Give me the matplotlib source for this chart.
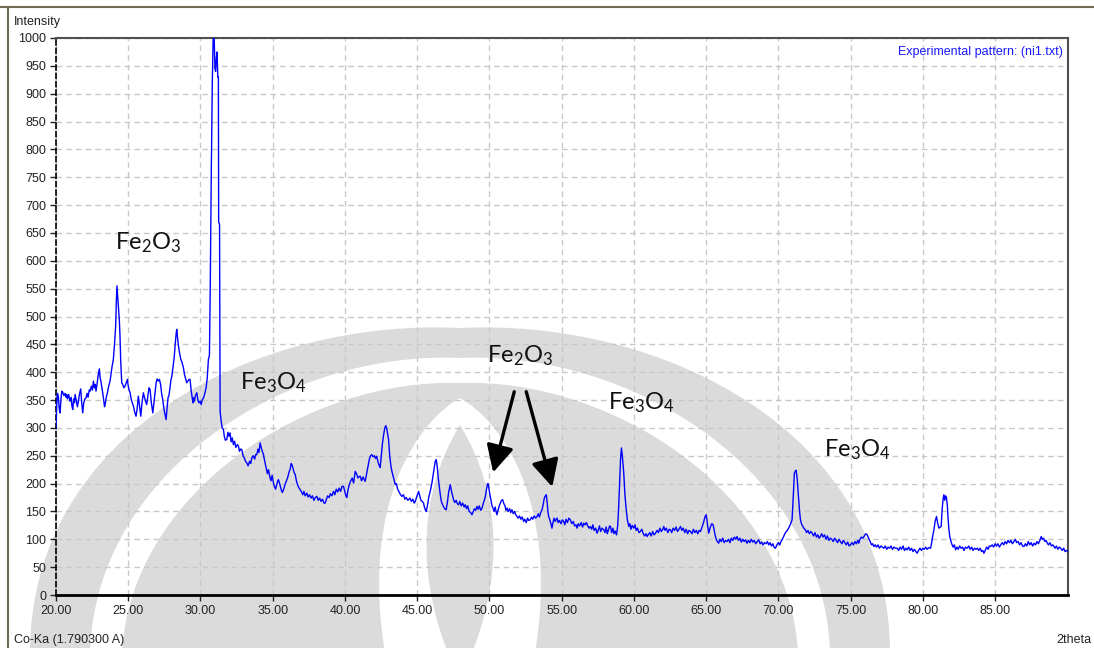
import matplotlib
matplotlib.use("Agg")
import matplotlib.pyplot as plt
from matplotlib.path import Path
from matplotlib.patches import PathPatch

# XRD pattern, Co-Ka radiation: 2theta (deg) vs intensity (counts)
two_theta_a = [
    20.00, 20.05, 20.10, 20.16, 20.22, 20.28, 20.34, 20.40, 20.46, 20.55,
    20.62, 20.70, 20.74, 20.80, 20.88, 20.97, 21.05, 21.10, 21.16, 21.22,
    21.28, 21.32, 21.40, 21.48, 21.55, 21.62, 21.71, 21.78, 21.85, 21.92,
    22.00, 22.08, 22.15, 22.22, 22.30, 22.36, 22.45, 22.52, 22.59, 22.66,
    22.72, 22.77, 22.85, 22.92, 23.00, 23.05, 23.10, 23.16, 23.24, 23.30,
    23.36, 23.40, 23.48, 23.56, 23.62, 23.68, 23.74, 23.80, 23.88, 23.97,
    24.05, 24.13, 24.18, 24.22, 24.26, 24.32, 24.38, 24.43, 24.48, 24.52,
    24.55, 24.62, 24.70, 24.78, 24.85, 24.94, 25.00, 25.06, 25.13, 25.20,
    25.28, 25.36, 25.45, 25.54, 25.62, 25.70, 25.78, 25.87, 25.95, 26.05,
    26.12, 26.20, 26.28, 26.36, 26.44, 26.51, 26.60, 26.70, 26.78, 26.86,
    26.93, 27.00, 27.08, 27.16, 27.24, 27.32, 27.39, 27.45, 27.50, 27.56,
    27.62, 27.70, 27.76, 27.81, 27.88, 27.95, 28.02, 28.10, 28.18, 28.25,
    28.32, 28.36, 28.40, 28.44, 28.48, 28.55, 28.64, 28.72, 28.82, 28.90,
    28.98, 29.05, 29.12, 29.20, 29.28, 29.35, 29.42, 29.48, 29.52, 29.58,
    29.65, 29.75, 29.82, 29.90, 29.98, 30.05, 30.12, 30.21, 30.30, 30.39,
    30.47, 30.55, 30.62, 30.68, 30.75, 30.82, 30.88, 30.95, 31.00, 31.05,
    31.10, 31.15, 31.20, 31.24, 31.26, 31.32, 31.36, 31.42, 31.50,
]
intensity_a = [
    300, 340, 362, 357, 335, 327, 350, 366, 364, 358,
    362, 355, 360, 352, 360, 348, 355, 340, 333, 352,
    345, 360, 350, 338, 348, 360, 370, 345, 327, 345,
    352, 354, 362, 355, 368, 366, 375, 368, 384, 372,
    378, 366, 380, 395, 406, 390, 385, 375, 362, 350,
    338, 342, 355, 363, 372, 378, 384, 395, 410, 423,
    450, 483, 530, 555, 540, 519, 495, 465, 420, 395,
    381, 378, 372, 375, 380, 387, 375, 368, 363, 352,
    345, 339, 328, 321, 335, 357, 340, 321, 345, 363,
    355, 348, 342, 358, 372, 369, 345, 327, 345, 365,
    381, 388, 384, 387, 378, 360, 351, 338, 330, 322,
    315, 340, 355, 357, 370, 385, 393, 410, 426, 450,
    470, 477, 465, 455, 447, 435, 423, 418, 408, 395,
    388, 381, 384, 387, 387, 368, 355, 345, 354, 348,
    358, 363, 350, 345, 348, 342, 350, 354, 362, 372,
    390, 423, 430, 560, 760, 920, 1000, 1000, 945, 940,
    965, 975, 930, 930, 670, 665, 330, 315, 300,
]

two_theta_b = [
    31.59, 31.65, 31.72, 31.82, 31.90, 31.98, 32.05, 32.12, 32.20, 32.28,
    32.36, 32.45, 32.55, 32.63, 32.70, 32.78, 32.86, 32.95, 33.05, 33.12,
    33.21, 33.30, 33.40, 33.48, 33.55, 33.65, 33.75, 33.82, 33.90, 33.98,
    34.05, 34.13, 34.20, 34.28, 34.36, 34.45, 34.55, 34.63, 34.71, 34.80,
    34.88, 34.96, 35.05, 35.12, 35.20, 35.28, 35.35, 35.40, 35.50, 35.58,
    35.66, 35.75, 35.85, 35.95, 36.05, 36.12, 36.20, 36.28, 36.33, 36.40,
    36.48, 36.56, 36.64, 36.72, 36.80, 36.90, 37.00, 37.08, 37.16, 37.25,
    37.36, 37.45, 37.55, 37.65, 37.75, 37.85, 37.95, 38.06, 38.15, 38.25,
    38.35, 38.45, 38.55, 38.63, 38.72, 38.80, 38.90, 39.00, 39.10, 39.21,
    39.30, 39.40, 39.50, 39.60, 39.70, 39.80, 39.90, 40.00, 40.07, 40.13,
    40.22, 40.30, 40.40, 40.50, 40.60, 40.71, 40.80, 40.90, 41.00, 41.06,
    41.15, 41.25, 41.32, 41.40, 41.50, 41.60, 41.70, 41.78, 41.86, 41.95,
    42.05, 42.12, 42.20, 42.30, 42.38, 42.44, 42.52, 42.60, 42.68, 42.76,
    42.83, 42.90, 42.96, 43.02, 43.10, 43.18, 43.25, 43.35, 43.42, 43.48,
    43.56, 43.65, 43.75, 43.85, 43.94, 44.05, 44.15, 44.25, 44.35, 44.40,
    44.50, 44.60, 44.70, 44.80, 44.87, 44.95, 45.02, 45.10, 45.18, 45.26,
]
intensity_b = [
    297, 285, 278, 279, 292, 285, 291, 275, 282, 270,
    276, 265, 270, 267, 258, 262, 261, 250, 245, 240,
    237, 232, 240, 236, 246, 250, 244, 252, 252, 262,
    256, 273, 265, 258, 252, 240, 228, 218, 225, 212,
    205, 215, 201, 195, 190, 198, 205, 207, 198, 190,
    184, 189, 198, 205, 212, 220, 225, 236, 234, 228,
    220, 216, 205, 198, 193, 189, 185, 180, 186, 178,
    183, 176, 180, 174, 178, 170, 175, 177, 170, 174,
    168, 172, 165, 165, 172, 178, 175, 182, 178, 186,
    180, 190, 185, 192, 186, 195, 195, 185, 178, 175,
    190, 198, 205, 210, 201, 222, 218, 210, 213, 213,
    205, 212, 208, 204, 218, 232, 245, 250, 252, 248,
    250, 245, 249, 238, 232, 229, 250, 273, 288, 300,
    304, 298, 288, 279, 250, 232, 222, 212, 205, 198,
    200, 190, 185, 180, 177, 180, 172, 175, 170, 171,
    174, 168, 172, 165, 168, 175, 180, 186, 178, 170,
]

two_theta_c = [
    45.35, 45.44, 45.50, 45.58, 45.63, 45.72, 45.80, 45.90, 46.02, 46.10,
    46.18, 46.25, 46.32, 46.40, 46.46, 46.53, 46.60, 46.66, 46.71, 46.80,
    46.90, 47.01, 47.10, 47.18, 47.24, 47.29, 47.36, 47.45, 47.52, 47.60,
    47.70, 47.78, 47.87, 47.95, 48.05, 48.15, 48.25, 48.33, 48.42, 48.50,
    48.60, 48.70, 48.79, 48.88, 48.96, 49.05, 49.14, 49.22, 49.30, 49.40,
    49.49, 49.58, 49.65, 49.72, 49.80, 49.86, 49.90, 49.96, 50.02, 50.06,
    50.12, 50.18, 50.25, 50.32, 50.40, 50.46, 50.52, 50.60, 50.68, 50.76,
    50.84, 50.92, 51.00, 51.08, 51.15, 51.22, 51.30, 51.40, 51.48, 51.56,
    51.65, 51.75, 51.82, 51.91, 52.00, 52.08, 52.18, 52.27, 52.37, 52.45,
    52.55, 52.64, 52.72, 52.83, 52.92, 53.00, 53.10, 53.20, 53.30, 53.38,
    53.46, 53.55, 53.64, 53.72, 53.80, 53.88, 53.94, 54.00, 54.05, 54.10,
    54.18, 54.26, 54.33, 54.40, 54.48, 54.56, 54.63, 54.68, 54.76, 54.85,
    54.95, 55.05, 55.14, 55.22, 55.30, 55.40, 55.50, 55.60, 55.70, 55.80,
    55.90, 56.00, 56.07, 56.15, 56.25, 56.35, 56.45, 56.53, 56.62, 56.72,
    56.80, 56.90, 56.99, 57.08, 57.16, 57.25, 57.35, 57.45, 57.55, 57.62,
    57.70, 57.80, 57.92, 58.00, 58.08, 58.16, 58.25, 58.32, 58.38, 58.46,
    58.55, 58.62, 58.70, 58.80, 58.88, 58.95, 59.02, 59.08, 59.14, 59.20,
    59.26, 59.30, 59.38, 59.46, 59.55, 59.65, 59.72, 59.80, 59.88, 60.00,
]
intensity_c = [
    168, 165, 158, 152, 150, 162, 175, 186, 201, 215,
    230, 240, 243, 228, 210, 195, 180, 170, 165, 160,
    155, 153, 168, 185, 192, 198, 188, 178, 171, 166,
    170, 164, 162, 168, 160, 165, 158, 162, 155, 160,
    150, 148, 144, 150, 155, 152, 159, 154, 160, 152,
    156, 165, 170, 177, 190, 198, 200, 192, 182, 177,
    168, 160, 156, 150, 158, 150, 144, 152, 160, 165,
    170, 171, 164, 160, 152, 156, 150, 155, 148, 153,
    146, 150, 144, 141, 138, 142, 136, 140, 132, 136,
    130, 138, 134, 135, 140, 136, 142, 138, 141, 146,
    140, 148, 153, 162, 174, 178, 180, 165, 150, 141,
    135, 128, 120, 130, 138, 132, 136, 138, 130, 134,
    128, 135, 132, 126, 136, 130, 138, 135, 128, 132,
    124, 126, 120, 128, 124, 130, 122, 129, 126, 130,
    124, 120, 123, 118, 126, 116, 120, 111, 118, 124,
    114, 120, 117, 112, 122, 110, 118, 124, 123, 112,
    120, 110, 115, 108, 125, 159, 205, 245, 264, 250,
    232, 219, 180, 156, 135, 123, 128, 118, 125, 120,
]

two_theta_d = [
    60.08, 60.16, 60.25, 60.35, 60.45, 60.55, 60.65, 60.75, 60.85, 60.92,
    61.00, 61.10, 61.20, 61.30, 61.40, 61.50, 61.60, 61.70, 61.80, 61.90,
    62.00, 62.07, 62.15, 62.25, 62.35, 62.45, 62.53, 62.62, 62.72, 62.82,
    62.92, 63.02, 63.12, 63.23, 63.32, 63.42, 63.52, 63.62, 63.72, 63.82,
    63.92, 64.02, 64.12, 64.22, 64.32, 64.42, 64.52, 64.61, 64.72, 64.82,
    64.92, 65.00, 65.06, 65.12, 65.18, 65.25, 65.32, 65.40, 65.48, 65.55,
    65.62, 65.70, 65.78, 65.87, 65.95, 66.05, 66.15, 66.25, 66.35, 66.45,
    66.55, 66.65, 66.75, 66.85, 66.95, 67.05, 67.14, 67.24, 67.34, 67.44,
    67.54, 67.64, 67.74, 67.83, 67.93, 68.03, 68.13, 68.23, 68.33, 68.43,
    68.54, 68.64, 68.74, 68.84, 68.94, 69.04, 69.14, 69.24, 69.33, 69.42,
    69.52, 69.62, 69.70, 69.80, 69.90, 70.00, 70.10, 70.18, 70.26, 70.35,
    70.45, 70.55, 70.65, 70.75, 70.85, 70.95, 71.02, 71.08, 71.11, 71.17,
    71.23, 71.30, 71.36, 71.41, 71.47, 71.53, 71.60, 71.68, 71.76, 71.87,
    71.95, 72.05, 72.15, 72.25, 72.34, 72.44, 72.54, 72.64, 72.74, 72.82,
    72.91, 73.00, 73.10, 73.20, 73.30, 73.40, 73.50, 73.60, 73.70, 73.80,
    73.90, 74.00, 74.10, 74.20, 74.30, 74.40, 74.50, 74.60, 74.70, 74.80,
    74.90, 74.99, 75.10, 75.20, 75.30, 75.40, 75.50, 75.57, 75.65, 75.75,
    75.85, 75.95, 76.05, 76.15, 76.25, 76.35, 76.45, 76.53, 76.61, 76.70,
]
intensity_d = [
    126, 116, 120, 112, 114, 118, 110, 106, 110, 105,
    108, 112, 106, 114, 108, 111, 116, 112, 120, 114,
    118, 123, 116, 120, 112, 118, 117, 112, 120, 116,
    122, 114, 118, 123, 116, 120, 112, 118, 110, 116,
    114, 110, 118, 112, 116, 110, 116, 114, 122, 130,
    140, 144, 135, 122, 111, 118, 124, 128, 126, 118,
    108, 100, 96, 93, 100, 96, 102, 94, 98, 96,
    100, 94, 102, 98, 104, 100, 105, 98, 102, 95,
    100, 96, 99, 93, 98, 94, 100, 95, 98, 92,
    96, 99, 92, 95, 90, 94, 92, 96, 90, 94,
    88, 92, 86, 84, 90, 94, 90, 96, 99, 104,
    110, 114, 117, 122, 128, 135, 170, 205, 219, 222,
    224, 210, 190, 171, 150, 135, 128, 124, 120, 117,
    112, 116, 110, 114, 111, 106, 112, 104, 108, 102,
    105, 110, 104, 108, 100, 106, 98, 102, 100, 96,
    102, 98, 94, 100, 96, 92, 98, 94, 90, 95,
    88, 90, 94, 90, 96, 92, 98, 93, 100, 104,
    102, 106, 110, 108, 102, 96, 90, 92, 87, 90,
]

two_theta_e = [
    76.80, 76.90, 77.00, 77.10, 77.20, 77.30, 77.40, 77.50, 77.60, 77.70,
    77.80, 77.90, 78.00, 78.10, 78.23, 78.33, 78.43, 78.53, 78.63, 78.73,
    78.83, 78.92, 79.02, 79.12, 79.22, 79.32, 79.42, 79.52, 79.61, 79.70,
    79.80, 79.90, 80.00, 80.10, 80.20, 80.30, 80.40, 80.54, 80.62, 80.70,
    80.77, 80.85, 80.95, 81.02, 81.11, 81.20, 81.27, 81.33, 81.40, 81.46,
    81.52, 81.58, 81.64, 81.70, 81.74, 81.80, 81.86, 81.92, 82.00, 82.10,
    82.18, 82.27, 82.36, 82.45, 82.55, 82.65, 82.75, 82.85, 82.95, 83.08,
    83.18, 83.28, 83.38, 83.48, 83.58, 83.68, 83.77, 83.87, 83.97, 84.07,
    84.15, 84.23, 84.32, 84.42, 84.52, 84.60, 84.69, 84.80, 84.90, 85.00,
    85.10, 85.20, 85.30, 85.39, 85.50, 85.60, 85.70, 85.80, 85.90, 86.00,
    86.10, 86.20, 86.31, 86.40, 86.50, 86.60, 86.70, 86.80, 86.90, 87.00,
    87.10, 87.20, 87.30, 87.40, 87.50, 87.60, 87.70, 87.80, 87.90, 88.00,
    88.10, 88.20, 88.28, 88.36, 88.45, 88.53, 88.62, 88.70, 88.80, 88.90,
    89.00, 89.08, 89.16, 89.25, 89.35, 89.45, 89.54, 89.65, 89.75, 89.85,
    89.95, 90.05,
]
intensity_e = [
    86, 90, 84, 88, 86, 84, 88, 82, 86, 84,
    88, 82, 86, 84, 84, 80, 86, 82, 88, 80,
    84, 81, 86, 80, 84, 78, 82, 78, 75, 80,
    84, 80, 84, 82, 86, 82, 85, 84, 95, 108,
    117, 132, 141, 130, 120, 122, 123, 150, 172, 180,
    170, 178, 174, 160, 141, 120, 106, 99, 92, 86,
    90, 81, 86, 82, 88, 84, 86, 80, 86, 84,
    88, 82, 86, 80, 84, 82, 84, 80, 84, 78,
    80, 75, 80, 86, 82, 88, 87, 90, 86, 92,
    88, 92, 86, 90, 94, 90, 96, 92, 98, 94,
    98, 92, 96, 100, 94, 96, 90, 94, 88, 87,
    92, 88, 96, 90, 94, 88, 93, 90, 96, 92,
    98, 105, 100, 102, 96, 98, 93, 90, 94, 88,
    90, 87, 84, 88, 82, 86, 84, 80, 84, 78,
    80, 78,
]

two_theta = two_theta_a + two_theta_b + two_theta_c + two_theta_d + two_theta_e
intensity = intensity_a + intensity_b + intensity_c + intensity_d + intensity_e

x_ticks = [20, 25, 30, 35, 40, 45, 50, 55, 60, 65, 70, 75, 80, 85]
y_ticks = list(range(0, 1001, 50))

# phase labels: text, 2theta, intensity (baseline position)
phase_labels = [
    (r"$\mathregular{Fe_2O_3}$", 24.09, 621),
    (r"$\mathregular{Fe_3O_4}$", 32.74, 369),
    (r"$\mathregular{Fe_2O_3}$", 49.85, 418),
    (r"$\mathregular{Fe_3O_4}$", 58.23, 333),
    (r"$\mathregular{Fe_3O_4}$", 73.19, 248),
]
# arrows from the middle Fe2O3 label down to its two small peaks
arrow_tails = [(51.72, 365), (52.55, 365)]
arrow_heads = [(50.26, 220), (54.35, 194)]

W, H = 1094, 648
ui_font = ["Liberation Sans", "DejaVu Sans"]
label_font = ["Lato", "DejaVu Sans"]
plt.rcParams["mathtext.default"] = "regular"

fig = plt.figure(figsize=(W / 100, H / 100), dpi=100, facecolor="white")

# background layer in pixel coordinates: window frame and watermark
bg = fig.add_axes([0, 0, 1, 1], zorder=0)
bg.set_xlim(0, W)
bg.set_ylim(H, 0)
bg.axis("off")

WM_GRAY = "#dbdbdb"
AXIS_X = 460


def arch(x0, apex, c1, c2, base=H + 5):
    # symmetric pointed dome around the logo axis
    verts = [(x0, base), c1, c2, (AXIS_X, apex),
             (2 * AXIS_X - c2[0], c2[1]), (2 * AXIS_X - c1[0], c1[1]),
             (2 * AXIS_X - x0, base), (x0, base)]
    codes = [Path.MOVETO, Path.CURVE4, Path.CURVE4, Path.CURVE4,
             Path.CURVE4, Path.CURVE4, Path.CURVE4, Path.CLOSEPOLY]
    return Path(verts, codes)


bg.add_patch(PathPatch(arch(30, 328, (30, 430), (260, 318)), fc=WM_GRAY, ec="none"))
bg.add_patch(PathPatch(arch(90, 358, (95, 470), (290, 350)), fc="white", ec="none"))
bg.add_patch(PathPatch(arch(122, 383, (130, 495), (305, 378)), fc=WM_GRAY, ec="none"))
bg.add_patch(PathPatch(arch(385, 398, (360, 500), (420, 420)), fc="white", ec="none"))
bg.add_patch(PathPatch(arch(448, 425, (400, 530), (445, 450)), fc=WM_GRAY, ec="none"))

# window border
bg.plot([0, W], [7, 7], color="#6e6a55", lw=1.5)
bg.plot([8, 8], [7, H], color="#6e6a55", lw=1.5)

bg.text(14, 22, "Intensity", fontsize=9, family=ui_font, va="center", ha="left", color="#222222")
bg.text(14, 640, "Co-Ka (1.790300 A)", fontsize=9, family=ui_font, va="center", ha="left", color="#222222")
bg.text(1091, 640, "2theta", fontsize=9, family=ui_font, va="center", ha="right", color="#222222")

ax = fig.add_axes([56 / W, 53 / H, 1012 / W, 557 / H], zorder=1)
ax.set_facecolor("none")

ax.plot(two_theta, intensity, color="#0000ff", lw=1.0, zorder=3)

ax.set_xlim(20, 90.05)
ax.set_ylim(0, 1000)
ax.set_xticks(x_ticks)
ax.set_xticklabels([f"{v:.2f}" for v in x_ticks])
ax.set_yticks(y_ticks)
ax.set_yticklabels([str(v) for v in y_ticks])
ax.tick_params(axis="both", direction="out", length=4, width=1, colors="#222222",
               labelsize=9, pad=3)
for lbl in ax.get_xticklabels() + ax.get_yticklabels():
    lbl.set_family(ui_font)

ax.grid(True, color="#c8c8c8", linestyle=(0, (4, 3)), lw=1, zorder=1)
ax.set_axisbelow(True)

ax.spines["bottom"].set_color("black")
ax.spines["bottom"].set_linewidth(2)
ax.spines["left"].set_color("black")
ax.spines["left"].set_linestyle((0, (3, 2)))
ax.spines["left"].set_linewidth(1.2)
for side in ("top", "right"):
    ax.spines[side].set_color("#505050")
    ax.spines[side].set_linewidth(1.5)

ax.text(0.995, 0.975, "Experimental pattern: (ni1.txt)", transform=ax.transAxes,
        ha="right", va="center", fontsize=9, family=ui_font, color="#1a1aff")

for text, x, y in phase_labels:
    ax.text(x, y, text, fontsize=17, family=label_font, ha="left",
            va="baseline", color="#111111", zorder=4)

for tail, head in zip(arrow_tails, arrow_heads):
    ax.annotate("", xy=head, xytext=tail,
                arrowprops=dict(arrowstyle="-|>,head_length=0.75,head_width=0.38",
                                mutation_scale=22, lw=2.4, color="black",
                                shrinkA=0, shrinkB=0), zorder=4)

fig.savefig("out.png", dpi=100, facecolor="white")
